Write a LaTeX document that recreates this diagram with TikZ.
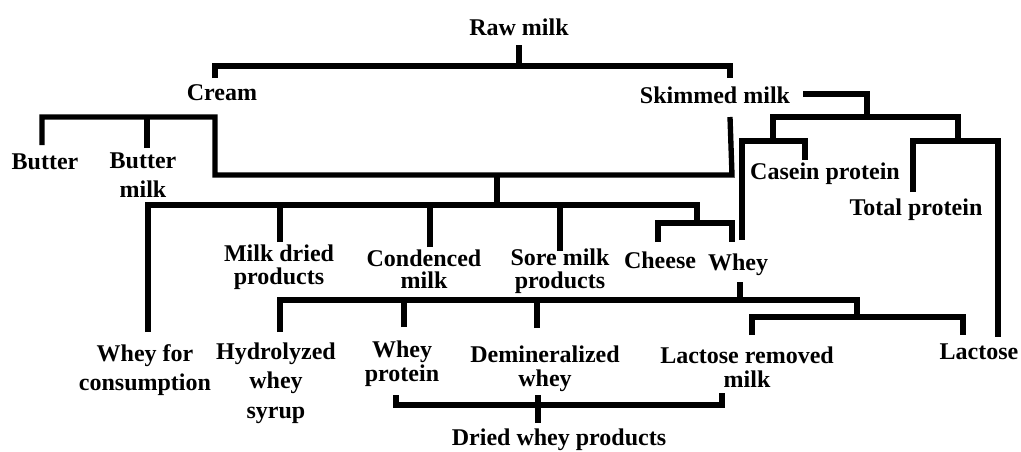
\documentclass[tikz,border=0pt]{standalone}
\usepackage{fontspec}
\setmainfont{Liberation Serif}
\usepackage{tikz}
\usetikzlibrary{positioning}

\begin{document}
\begin{tikzpicture}[x=0.75pt,y=-0.75pt,line width=4pt,
      prod/.style={inner sep=0pt,align=center,font=\bfseries\fontsize{18}{17}\selectfont},
      prodmid/.style={prod,font=\bfseries\fontsize{18}{18}\selectfont},
      prodwide/.style={prod,font=\bfseries\fontsize{18}{22}\selectfont}]
      \useasboundingbox (0,0) rectangle (1021,451);

      \node[prod] (raw) at (519,27) {Raw milk};
      \node[prod] (cream) at (222,93) {Cream};
      \node[prod] (skim) at (715,95) {Skimmed milk};
      \node[prod] (butter) at (45,162) {Butter};
      \node[prodwide] (bmilk) at (143,175) {Butter\\milk};
      \node[prod] (casein) at (825,174) {Casein protein};
      \node[prod] (total) at (916,210) {Total protein};
      \node[prod] (milkdried) at (279,267) {Milk dried\\products};
      \node[prod] (cond) at (424,269) {Condenced\\milk};
      \node[prod] (sore) at (560,271) {Sore milk\\products};
      \node[prod] (cheese) at (660,260) {Cheese};
      \node[prod] (whey) at (738,265) {Whey};
      \node[prodwide] (wcons) at (145,370) {Whey for\\consumption};
      \node[prodwide] (hydro) at (276,383) {Hydrolyzed\\whey\\syrup};
      \node[prodmid] (wprot) at (402,364) {Whey\\protein};
      \node[prodmid] (demin) at (545,369) {Demineralized\\whey};
      \node[prodmid] (lrm) at (747,367) {Lactose removed\\milk};
      \node[prod] (lactose) at (979,352) {Lactose};
      \node[prod] (dried) at (559,440) {Dried whey products};

      \coordinate (rawS) at (519,45);
      \coordinate (rawJ) at (519,66);
      \coordinate (creamT) at (215,78);
      \coordinate (skimT) at (730,78);
      \coordinate (butterT) at (42,145);
      \coordinate (bmilkT) at (147,148);
      \coordinate (creamJ) at (215,117);
      \coordinate (skimB) at (730,117);
      \coordinate (mixL) at (215,175);
      \coordinate (mixR) at (732,175);
      \coordinate (mixJ) at (497,175);
      \coordinate (mixB) at (497,205);
      \coordinate (wconsT) at (148,332);
      \coordinate (milkdriedT) at (280,242);
      \coordinate (condT) at (430,247);
      \coordinate (soreT) at (560,251);
      \coordinate (cheeseJ) at (697,223);
      \coordinate (cheeseT) at (658,242);
      \coordinate (wheyT) at (732,242);
      \coordinate (skimR) at (803,94);
      \coordinate (skimJ) at (867,117);
      \coordinate (protL) at (773,141);
      \coordinate (protR) at (958,141);
      \coordinate (caseinL) at (742,240);
      \coordinate (caseinT) at (805,160);
      \coordinate (totalT) at (913,192);
      \coordinate (lactoseT) at (998,337);
      \coordinate (wheyB) at (740,282);
      \coordinate (wheyJ) at (740,300);
      \coordinate (hydroT) at (280,332);
      \coordinate (wprotT) at (404,327);
      \coordinate (deminT) at (537,328);
      \coordinate (lacJ) at (857,317);
      \coordinate (lrmT) at (752,335);
      \coordinate (lactT) at (963,335);
      \coordinate (wprotB) at (396,395);
      \coordinate (lrmB) at (722,393);
      \coordinate (driedJ) at (538,405);
      \coordinate (deminB) at (538,395);
      \coordinate (driedT) at (538,423);

      \draw (rawS) -- (rawJ);
      \draw (creamT) |- (rawJ) -| (skimT);
      \draw (butterT) |- (creamJ) -- (mixL) -- (mixR) -- (skimB);
      \draw (bmilkT) -- (bmilkT |- creamJ);
      \draw (mixJ) -- (mixB);
      \draw (wconsT) |- (mixB) -| (cheeseJ);
      \draw (milkdriedT) -- (milkdriedT |- mixB);
      \draw (condT) -- (condT |- mixB);
      \draw (soreT) -- (soreT |- mixB);
      \draw (cheeseT) |- (cheeseJ) -| (wheyT);
      \draw (skimR) -| (skimJ);
      \draw (protL) |- (skimJ) -| (protR);
      \draw (caseinL) |- (protL) -| (caseinT);
      \draw (totalT) |- (protR) -| (lactoseT);
      \draw (wheyB) -- (wheyJ);
      \draw (hydroT) |- (wheyJ) -| (lacJ);
      \draw (wprotT) -- (wprotT |- wheyJ);
      \draw (deminT) -- (deminT |- wheyJ);
      \draw (lrmT) |- (lacJ) -| (lactT);
      \draw (wprotB) |- (driedJ) -| (lrmB);
      \draw (deminB) -- (driedT);
\end{tikzpicture}
\end{document}
